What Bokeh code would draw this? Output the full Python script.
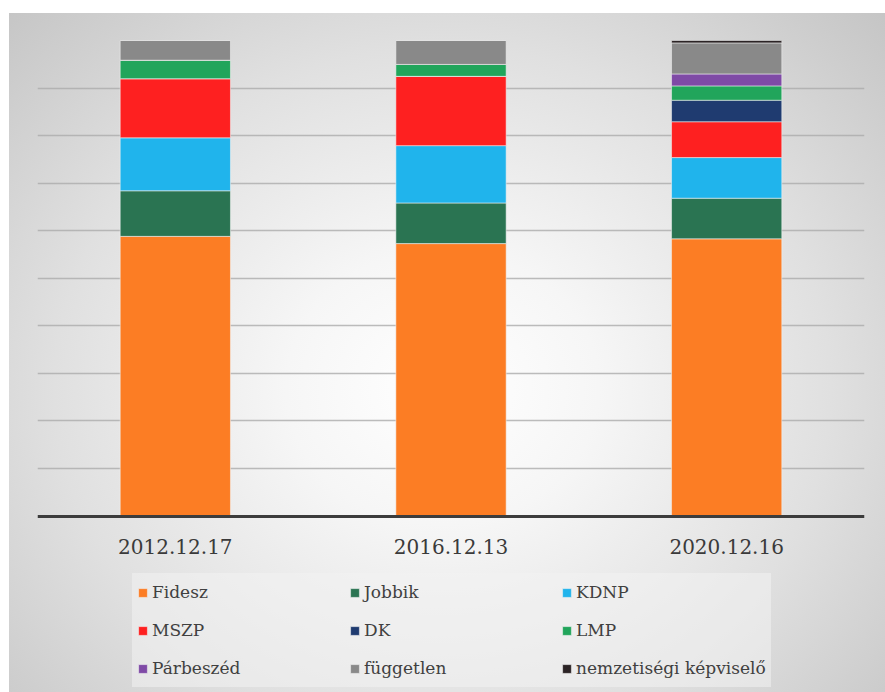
from bokeh.plotting import figure
from bokeh.models import ColumnDataSource, Legend, LegendItem, FixedTicker
from bokeh.embed import file_html
from bokeh.resources import INLINE

dates = ["2012.12.17", "2016.12.13", "2020.12.16"]
parties = ["Fidesz", "Jobbik", "KDNP", "MSZP", "DK", "LMP", "Párbeszéd",
           "független", "nemzetiségi képviselő"]
fidesz = [227, 114, 116]
jobbik = [37, 17, 17]
kdnp = [43, 24, 17]
mszp = [48, 29, 15]
dk = [0, 0, 9]
lmp = [15, 5, 6]
parbeszed = [0, 0, 5]
fuggetlen = [16, 10, 13]
nemzetisegi = [0, 0, 1]
colors = ["#FC7D24", "#2A7452", "#20B4EC", "#FE2020", "#1F3B70", "#21A55B",
          "#7F4AA6", "#898989", "#2B2325"]

series = [fidesz, jobbik, kdnp, mszp, dk, lmp, parbeszed, fuggetlen, nemzetisegi]
totals = [sum(s[i] for s in series) for i in range(len(dates))]
keys = [f"s{i}" for i in range(len(parties))]
data = {"date": dates}
for k, s in zip(keys, series):
    data[k] = [v / t for v, t in zip(s, totals)]
source = ColumnDataSource(data)

W, H = 885, 692
TOP, BASE = 40, 515.5          # pixel rows of the 100% line and the baseline
ymin = -(H - BASE) / (BASE - TOP)
p = figure(x_range=dates, y_range=(ymin, 1), width=W, height=H,
           output_backend="svg", toolbar_location=None,
           min_border_left=37, min_border_right=W - 37 - 827, min_border_top=TOP,
           min_border_bottom=0)
p.x_range.range_padding = 0
p.background_fill_alpha = 0
p.border_fill_alpha = 0
p.outline_line_color = None
p.styles = {
    "background": "linear-gradient(#ffffff,#ffffff) 0 0/100% 13px no-repeat, "
                  "linear-gradient(#ffffff,#ffffff) 0 0/9px 100% no-repeat, "
                  "radial-gradient(ellipse at 50% 56%, #ffffff 0%, #f6f6f6 25%, "
                  "#e0e0e0 62%, #c4c4c4 100%)"
}

rs = p.vbar_stack(keys, x="date", width=0.4, source=source, color=colors,
                  line_color="#f2f2f2", line_alpha=0.55, line_width=1)

p.yaxis.visible = False
p.yaxis.ticker = FixedTicker(ticks=[i / 10 for i in range(1, 11)])
p.ygrid.ticker = FixedTicker(ticks=[i / 10 for i in range(1, 11)])
p.ygrid.grid_line_color = "#ababab"
p.ygrid.grid_line_width = 1.5
p.ygrid.grid_line_alpha = 0.8
p.xgrid.grid_line_color = None

ax = p.xaxis[0]
ax.fixed_location = 0
ax.axis_line_color = "#3c3c3c"
ax.axis_line_width = 3
ax.major_tick_line_color = None
ax.minor_tick_line_color = None
ax.major_label_text_font = "DejaVu Serif"
ax.major_label_text_font_size = "20px"
ax.major_label_text_color = "#3a3a3a"
ax.major_label_standoff = 17

items = [LegendItem(label=name, renderers=[r]) for name, r in zip(parties, rs)]
legend = Legend(items=items, location=(95, 5), orientation="horizontal", ncols=3,
                glyph_width=11, glyph_height=11, label_standoff=4,
                label_width=187, label_height=28, spacing=10, padding=5,
                label_text_font="DejaVu Serif", label_text_font_size="17px",
                label_text_color="#404040",
                background_fill_color="#f3f3f3", background_fill_alpha=0.55,
                border_line_alpha=0, margin=0)
p.add_layout(legend, "center")

open("out.html", "w").write(file_html(p, INLINE))
